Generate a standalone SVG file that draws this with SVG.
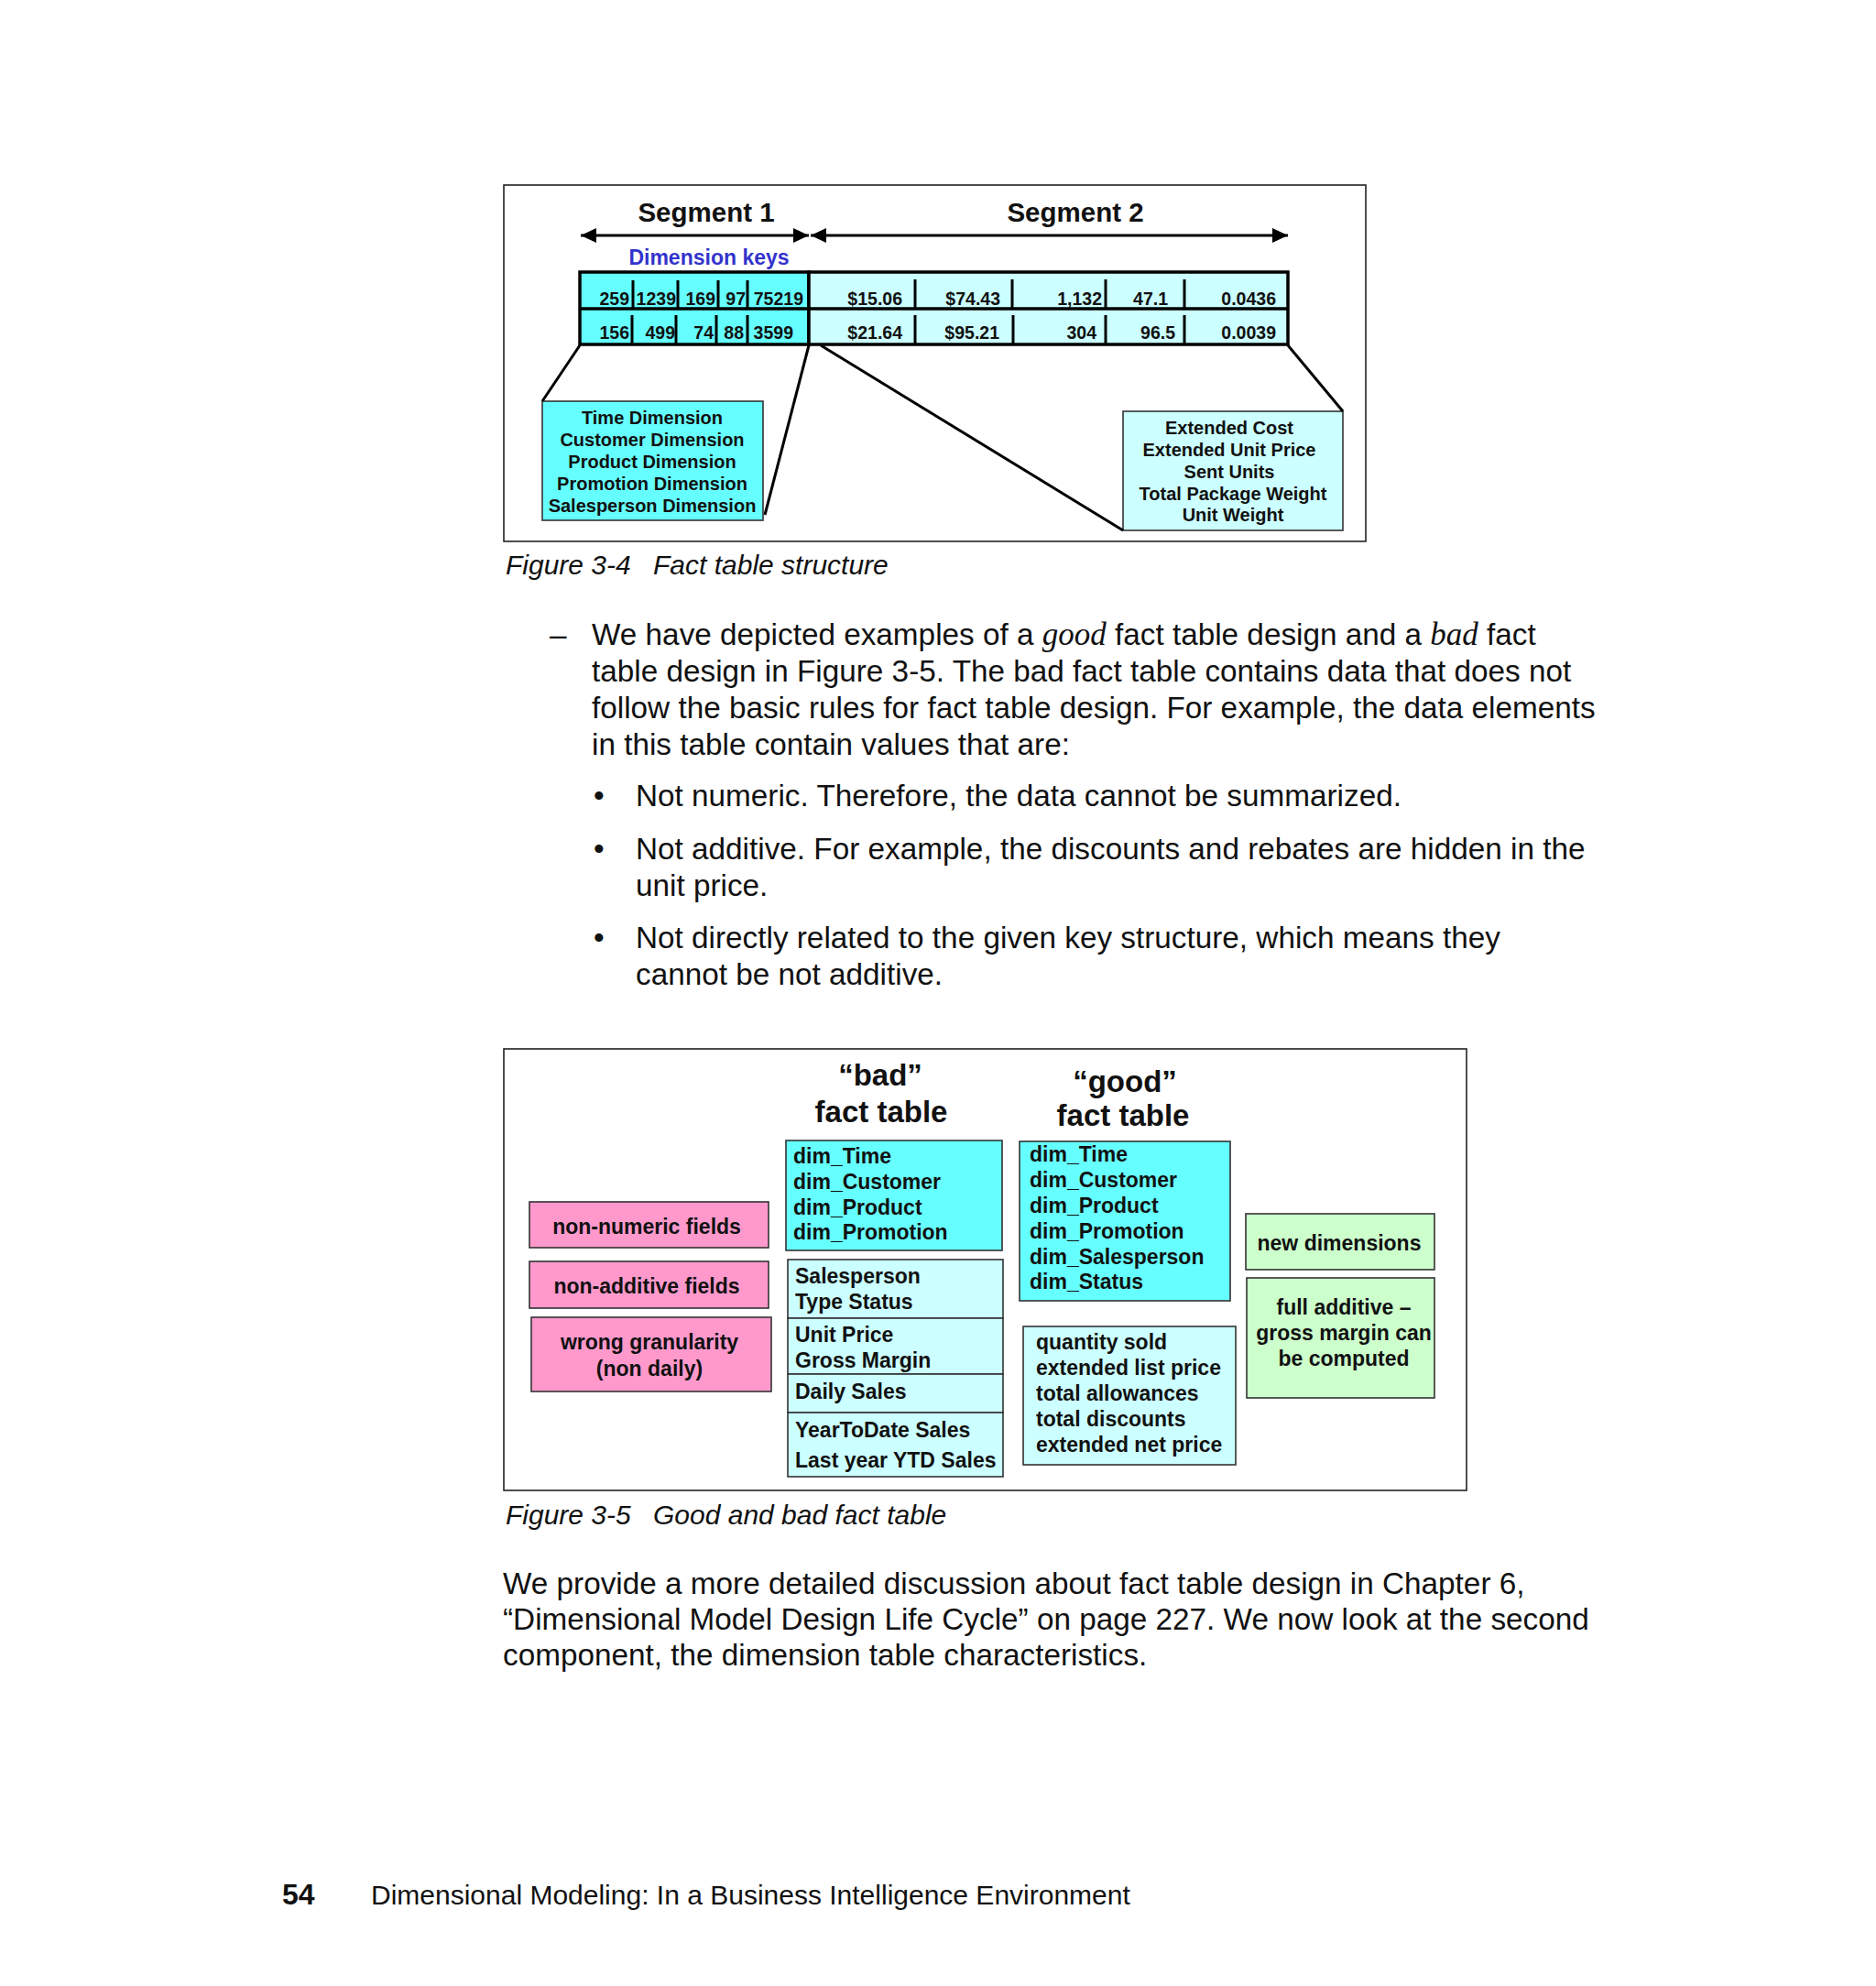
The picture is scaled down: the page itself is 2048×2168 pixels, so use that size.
<svg xmlns="http://www.w3.org/2000/svg" width="2048" height="2168" viewBox="0 0 2048 2168">
<style>
text{font-family:"Liberation Sans",Arial,sans-serif;fill:#111}
.b{font-weight:bold}
.frame{fill:none;stroke:#222;stroke-width:1.6}
.tbl{stroke:#000;stroke-width:3.5}
.div{stroke:#000;stroke-width:3}
.num{font-weight:bold;font-size:19.5px;text-anchor:end}
.conn{stroke:#000;stroke-width:3;fill:none}
.box{stroke:#333;stroke-width:1.6}
.cy{fill:#66FFFF}
.lc{fill:#CCFFFF}
.pk{fill:#FF99CC}
.gr{fill:#CCFFCC}
.bt{font-weight:bold;font-size:20px;text-anchor:middle}
.ft{font-weight:bold;font-size:23px}
.ftc{font-weight:bold;font-size:23px;text-anchor:middle}
.hd{font-weight:bold;font-size:33px;text-anchor:middle}
.body{font-size:33.3px}
.cap{font-size:30px;font-style:italic}
.it{font-family:"Liberation Serif","Times New Roman",serif;font-style:italic;font-size:35px}
</style>
<defs>
<marker id="ah" markerUnits="userSpaceOnUse" markerWidth="18" markerHeight="18" viewBox="0 0 18 18" refX="17" refY="9" orient="auto-start-reverse">
<path d="M0,1 L17,9 L0,17 Z" fill="#000"/>
</marker>
</defs>
<rect width="2048" height="2168" fill="#fff"/>

<!-- Figure 3-4 -->
<rect class="frame" x="550" y="202" width="941" height="389"/>
<g id="seg1-label"><text class="b" x="771" y="242" font-size="29.5" text-anchor="middle">Segment 1</text></g>
<g id="seg2-label"><text class="b" x="1174" y="242" font-size="29.5" text-anchor="middle">Segment 2</text></g>
<g id="dimkeys-label"><text class="b" x="774" y="289" font-size="23" text-anchor="middle" style="fill:#3333CC">Dimension keys</text></g>

<g id="fact-table">
<rect x="633" y="297" width="250" height="79" class="tbl cy"/>
<rect x="883" y="297" width="523" height="79" class="tbl lc"/>
<line class="tbl" x1="633" y1="337" x2="1406" y2="337"/>
<g class="div">
<line x1="691" y1="306" x2="691" y2="337"/><line x1="740" y1="306" x2="740" y2="337"/><line x1="784" y1="306" x2="784" y2="337"/><line x1="816" y1="306" x2="816" y2="337"/>
<line x1="999" y1="305" x2="999" y2="337"/><line x1="1105" y1="305" x2="1105" y2="337"/><line x1="1207" y1="305" x2="1207" y2="337"/><line x1="1293" y1="305" x2="1293" y2="337"/>
<line x1="690" y1="344" x2="690" y2="376"/><line x1="738" y1="344" x2="738" y2="376"/><line x1="782" y1="344" x2="782" y2="376"/><line x1="816" y1="344" x2="816" y2="376"/>
<line x1="999" y1="344" x2="999" y2="376"/><line x1="1106" y1="344" x2="1106" y2="376"/><line x1="1207" y1="344" x2="1207" y2="376"/><line x1="1293" y1="344" x2="1293" y2="376"/>
</g>
<text class="num" x="687" y="333">259</text><text class="num" x="738" y="333">1239</text><text class="num" x="781" y="333">169</text><text class="num" x="814" y="333">97</text><text class="num" x="877" y="333">75219</text>
<text class="num" x="985" y="333">$15.06</text><text class="num" x="1092" y="333">$74.43</text><text class="num" x="1203" y="333">1,132</text><text class="num" x="1275" y="333">47.1</text><text class="num" x="1393" y="333">0.0436</text>
<text class="num" x="687" y="370">156</text><text class="num" x="737" y="370">499</text><text class="num" x="779" y="370">74</text><text class="num" x="812" y="370">88</text><text class="num" x="866" y="370">3599</text>
<text class="num" x="985" y="370">$21.64</text><text class="num" x="1091" y="370">$95.21</text><text class="num" x="1197" y="370">304</text><text class="num" x="1283" y="370">96.5</text><text class="num" x="1393" y="370">0.0039</text>
</g>

<g id="dim-box">
<rect class="box cy" x="592" y="438" width="241" height="130"/>
<text class="bt" x="712" y="463">Time Dimension</text>
<text class="bt" x="712" y="487">Customer Dimension</text>
<text class="bt" x="712" y="511">Product Dimension</text>
<text class="bt" x="712" y="535">Promotion Dimension</text>
<text class="bt" x="712" y="559">Salesperson Dimension</text>
</g>
<g id="measure-box">
<rect class="box lc" x="1226" y="449" width="240" height="130"/>
<text class="bt" x="1342" y="474">Extended Cost</text>
<text class="bt" x="1342" y="498">Extended Unit Price</text>
<text class="bt" x="1342" y="522">Sent Units</text>
<text class="bt" x="1346" y="546">Total Package Weight</text>
<text class="bt" x="1346" y="569">Unit Weight</text>
</g>

<g id="connectors-3-4">
<line class="conn" x1="634" y1="257" x2="883" y2="257" marker-start="url(#ah)" marker-end="url(#ah)"/>
<line class="conn" x1="885" y1="257" x2="1406" y2="257" marker-start="url(#ah)" marker-end="url(#ah)"/>
<line class="conn" x1="633" y1="377" x2="592" y2="438"/>
<line class="conn" x1="883" y1="377" x2="835" y2="562"/>
<line class="conn" x1="896" y1="377" x2="1226" y2="579"/>
<line class="conn" x1="1406" y1="377" x2="1466" y2="449"/>
</g>

<text class="cap" x="552" y="627">Figure 3-4</text>
<text class="cap" x="713" y="627">Fact table structure</text>

<!-- body text -->
<text class="body" x="600" y="704">–</text>
<text class="body" x="646" y="704">We have depicted examples of a <tspan class="it">good</tspan> fact table design and a <tspan class="it">bad</tspan> fact</text>
<text class="body" x="646" y="744">table design in Figure 3-5. The bad fact table contains data that does not</text>
<text class="body" x="646" y="784">follow the basic rules for fact table design. For example, the data elements</text>
<text class="body" x="646" y="824">in this table contain values that are:</text>
<text class="body" x="648" y="880">•</text>
<text class="body" x="694" y="880">Not numeric. Therefore, the data cannot be summarized.</text>
<text class="body" x="648" y="938">•</text>
<text class="body" x="694" y="938">Not additive. For example, the discounts and rebates are hidden in the</text>
<text class="body" x="694" y="978">unit price.</text>
<text class="body" x="648" y="1035">•</text>
<text class="body" x="694" y="1035">Not directly related to the given key structure, which means they</text>
<text class="body" x="694" y="1075">cannot be not additive.</text>

<!-- Figure 3-5 -->
<rect class="frame" x="550" y="1145" width="1051" height="482"/>
<g id="bad-title"><text class="hd" x="961" y="1185">“bad”</text><text class="hd" x="962" y="1225">fact table</text></g>
<g id="good-title"><text class="hd" x="1228" y="1192">“good”</text><text class="hd" x="1226" y="1229">fact table</text></g>

<g id="non-numeric">
<rect class="box pk" x="578" y="1312" width="261" height="50"/>
<text class="ftc" x="706" y="1347">non-numeric fields</text>
</g>
<g id="non-additive">
<rect class="box pk" x="578" y="1377" width="261" height="51"/>
<text class="ftc" x="706" y="1412">non-additive fields</text>
</g>
<g id="wrong-granularity">
<rect class="box pk" x="580" y="1438" width="262" height="81"/>
<text class="ftc" x="709" y="1473">wrong granularity</text>
<text class="ftc" x="709" y="1502">(non daily)</text>
</g>

<g id="bad-dims">
<rect class="box cy" x="858" y="1245" width="236" height="120"/>
<text class="ft" x="866" y="1270">dim_Time</text>
<text class="ft" x="866" y="1298">dim_Customer</text>
<text class="ft" x="866" y="1326">dim_Product</text>
<text class="ft" x="866" y="1353">dim_Promotion</text>
</g>
<g id="bad-facts">
<rect class="box lc" x="860" y="1375" width="235" height="64"/>
<rect class="box lc" x="860" y="1439" width="235" height="61"/>
<rect class="box lc" x="860" y="1500" width="235" height="42"/>
<rect class="box lc" x="860" y="1542" width="235" height="70"/>
<text class="ft" x="868" y="1401">Salesperson</text>
<text class="ft" x="868" y="1429">Type Status</text>
<text class="ft" x="868" y="1465">Unit Price</text>
<text class="ft" x="868" y="1493">Gross Margin</text>
<text class="ft" x="868" y="1527">Daily Sales</text>
<text class="ft" x="868" y="1569">YearToDate Sales</text>
<text class="ft" x="868" y="1602">Last year YTD Sales</text>
</g>

<g id="good-dims">
<rect class="box cy" x="1113" y="1246" width="230" height="174"/>
<text class="ft" x="1124" y="1268">dim_Time</text>
<text class="ft" x="1124" y="1296">dim_Customer</text>
<text class="ft" x="1124" y="1324">dim_Product</text>
<text class="ft" x="1124" y="1352">dim_Promotion</text>
<text class="ft" x="1124" y="1380">dim_Salesperson</text>
<text class="ft" x="1124" y="1407">dim_Status</text>
</g>
<g id="good-facts">
<rect class="box lc" x="1117" y="1448" width="232" height="151"/>
<text class="ft" x="1131" y="1473">quantity sold</text>
<text class="ft" x="1131" y="1501">extended list price</text>
<text class="ft" x="1131" y="1529">total allowances</text>
<text class="ft" x="1131" y="1557">total discounts</text>
<text class="ft" x="1131" y="1585">extended net price</text>
</g>

<g id="new-dimensions">
<rect class="box gr" x="1360" y="1325" width="206" height="61"/>
<text class="ftc" x="1462" y="1365">new dimensions</text>
</g>
<g id="full-additive">
<rect class="box gr" x="1361" y="1395" width="205" height="131"/>
<text class="ftc" x="1467" y="1435">full additive –</text>
<text class="ftc" x="1467" y="1463">gross margin can</text>
<text class="ftc" x="1467" y="1491">be computed</text>
</g>

<text class="cap" x="552" y="1664">Figure 3-5</text>
<text class="cap" x="713" y="1664">Good and bad fact table</text>

<text class="body" x="549" y="1740">We provide a more detailed discussion about fact table design in Chapter 6,</text>
<text class="body" x="549" y="1779">“Dimensional Model Design Life Cycle” on page 227. We now look at the second</text>
<text class="body" x="549" y="1818">component, the dimension table characteristics.</text>

<text class="b" x="308" y="2079" font-size="32">54</text>
<text x="405" y="2079" font-size="30">Dimensional Modeling: In a Business Intelligence Environment</text>
</svg>
